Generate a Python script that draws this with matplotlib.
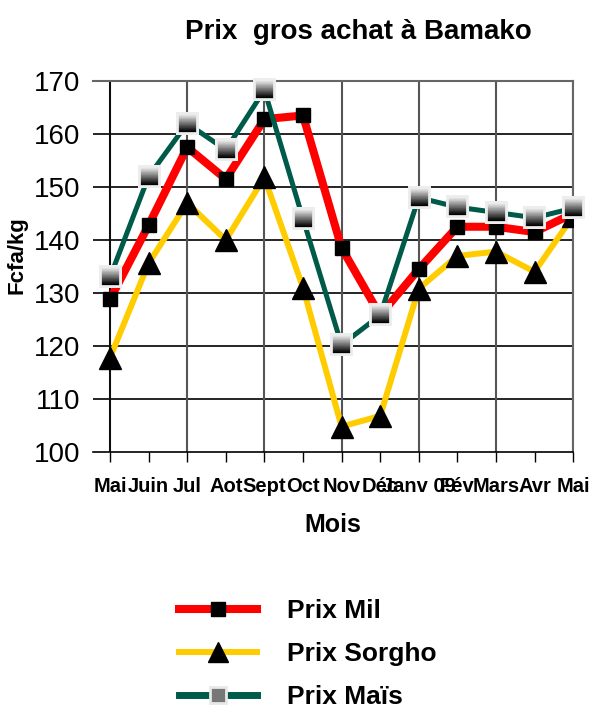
import numpy as np
import matplotlib
matplotlib.use('Agg')
import matplotlib.pyplot as plt
from matplotlib.offsetbox import OffsetImage, AnnotationBbox
from matplotlib.lines import Line2D
from matplotlib import font_manager

mois = ['Mai', 'Juin', 'Jul', 'Aot', 'Sept', 'Oct', 'Nov', 'Déc', 'Janv 09', 'Fév', 'Mars', 'Avr', 'Mai']
prix_mil = [128.8, 142.8, 157.5, 151.5, 162.8, 163.5, 138.5, 125.8, 134.5, 142.5, 142.5, 141.5, 145]
prix_sorgho = [117.8, 135.6, 147, 140, 151.8, 131, 104.8, 106.8, 130.8, 137, 137.8, 134, 144.5]
prix_mais = [133, 152, 162, 157, 168.3, 144, 120.2, 125.8, 148, 146.2, 145.2, 144.2, 146]

names = [f.name for f in font_manager.fontManager.ttflist]
fam = 'Liberation Sans Narrow' if 'Liberation Sans Narrow' in names else 'Liberation Sans'
plt.rcParams['font.family'] = [fam, 'DejaVu Sans']

fig = plt.figure(figsize=[5.89, 7.10], dpi=100)
ax = fig.add_axes([0.158, 0.3634, 0.815, 0.5225])

x = np.arange(len(mois))

ax.plot(x, prix_mil, color='#ff0000', lw=5.8, marker='s', ms=9.4,
        mfc='black', mec='black', zorder=3)
ax.plot(x, prix_sorgho, color='#ffcc00', lw=4.3, marker='^', ms=16,
        mfc='black', mec='black', zorder=4)
ax.plot(x, prix_mais, color='#005a4a', lw=3.6, zorder=5)

# gradient square markers for maize
grad = np.zeros((16, 16, 3))
shade = np.linspace(0.88, 0.0, 12)
grad[:, :, :] = 0.93
for i in range(12):
    grad[2 + i, 2:14, :] = shade[i]
for xi, yi in zip(x, prix_mais):
    ab = AnnotationBbox(OffsetImage(grad, zoom=1), (xi, yi), frameon=False, zorder=6)
    ax.add_artist(ab)

ax.set_xlim(-0.44, 12)
ax.set_ylim(100, 170)
ax.set_yticks(range(100, 171, 10))
ax.set_xticks(x)
ax.set_xticklabels(mois, fontsize=14.5, fontweight='bold')
ax.tick_params(axis='x', direction='out', length=7, width=1, pad=11)
ax.tick_params(axis='y', length=0, pad=9, labelsize=20)

for v in range(110, 171, 10):
    ax.axhline(v, color='black', lw=1.2, zorder=1)
for v in range(0, 13, 2):
    ax.axvline(v, color='#555555', lw=1.5, zorder=1)
ax.axvline(0, color='black', lw=1.2, zorder=1)

ax.spines['left'].set_visible(False)
ax.spines['bottom'].set_linewidth(1.2)
ax.spines['top'].set_color('#666666')
ax.spines['top'].set_linewidth(1.5)
ax.spines['right'].set_color('#666666')
ax.spines['right'].set_linewidth(1.5)

ax.set_xlabel('Mois', fontsize=18, fontweight='bold', labelpad=12)
ax.set_ylabel('Fcfa/kg', fontsize=16, fontweight='bold', labelpad=5, y=0.53)
fig.text(0.608, 0.955, 'Prix  gros achat à Bamako', fontsize=20, fontweight='bold',
         ha='center', va='center')

handles = [
    Line2D([], [], color='#ff0000', lw=5.8, marker='s', ms=9.4, mfc='black', mec='black'),
    Line2D([], [], color='#ffcc00', lw=4.3, marker='^', ms=14, mfc='black', mec='black'),
    Line2D([], [], color='#005a4a', lw=5, marker='s', ms=12, mfc='#777777', mec='#e8e8e8', mew=2),
]
leg = fig.legend(handles, ['Prix Mil', 'Prix Sorgho', 'Prix Maïs'], loc='upper left',
                 bbox_to_anchor=(0.282, 0.175), frameon=False, borderpad=0,
                 handlelength=2.95, handletextpad=1.15, labelspacing=0.72,
                 prop={'family': fam, 'weight': 'bold', 'size': 19})

fig.savefig('out.png', dpi=100)
